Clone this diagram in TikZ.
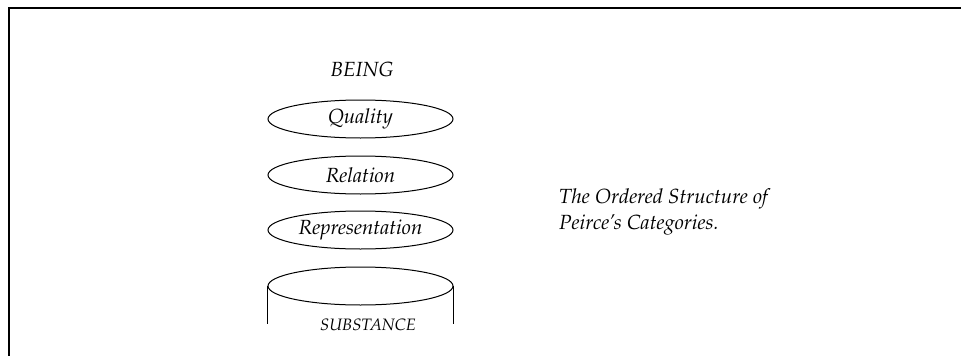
\documentclass[tikz,border=0pt]{standalone}
\usepackage[T1]{fontenc}
\usepackage{mathpazo}
\usetikzlibrary{shapes.geometric}
\begin{document}
\begin{tikzpicture}[x=1pt,y=-1pt,
  cat/.style={draw,ellipse,line width=1pt,minimum width=185pt,minimum height=38pt,inner sep=0pt,font=\fontsize{20.5}{25}\selectfont\itshape},
  lbl/.style={font=\fontsize{20.5}{25}\selectfont\itshape,inner sep=0pt}]
\useasboundingbox (0,0) rectangle (961,356);
\draw[line width=1.6pt] (9,356) -- (9,8) -- (961,8);
\node[lbl] (being) at (362,69) {BEING};
\node[cat] (quality) at (360.5,119) {Quality};
\node[cat] (relation) at (360.5,175) {Relation};
\node[cat] (repr) at (360.5,230) {Representation};
\node[cat] (subst) at (360.5,286) {};
\draw[line width=1pt] (subst.west) -- ++(0,38);
\draw[line width=1pt] (subst.east) -- ++(0,38);
\node[font=\fontsize{16.5}{20}\selectfont\itshape,inner sep=0pt] (substlbl) at (368,325) {SUBSTANCE};
\node[lbl,anchor=west,align=left,font=\fontsize{20.5}{26}\selectfont\itshape] (caption) at (559,212) {The Ordered Structure of\\Peirce's Categories.};
\end{tikzpicture}
\end{document}
